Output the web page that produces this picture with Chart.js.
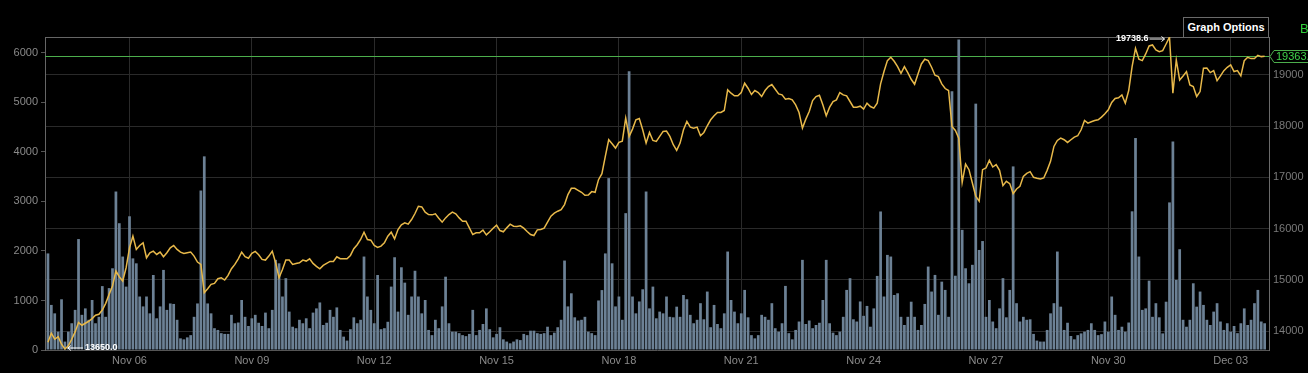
<!DOCTYPE html>
<html>
<head>
<meta charset="utf-8">
<script src="https://cdn.jsdelivr.net/npm/chart.js@4.4.1/dist/chart.umd.min.js"></script>
<style>
  html, body { margin: 0; padding: 0; background: #000; overflow: hidden; }
  #wrap { position: relative; width: 1308px; height: 373px; }
  #chart { position: absolute; left: 0; top: 0; }
  .graph-options {
    position: absolute; left: 1183px; top: 17px; width: 84px; height: 19px;
    border: 1px solid #6a6a6a; border-bottom: none; background: #000;
    color: #fff; font: bold 11px "Liberation Sans", Arial, sans-serif;
    line-height: 19px; text-align: center;
  }
  .pair {
    position: absolute; left: 1300px; top: 21px; white-space: nowrap;
    color: #2fcf3a; font: 13px "Liberation Sans", Arial, sans-serif;
  }
</style>
</head>
<body>
<div id="wrap">
  <canvas id="chart" width="1308" height="373"></canvas>
  <div class="graph-options">Graph Options</div>
  <div class="pair">BTCUSD</div>
</div>
<script>
/* ============================================
   BTC PRICE + VOLUME (2h slots, Nov 04 -> Dec 03)
   ============================================ */

// x axis: days counted from Nov 06 00:00
const firstSlotDay = -2;
const slotDays = 1 / 12;
const dateTickDays = [0, 3, 6, 9, 12, 15, 18, 21, 24, 27];
const dateLabels = ['Nov 06', 'Nov 09', 'Nov 12', 'Nov 15', 'Nov 18', 'Nov 21', 'Nov 24', 'Nov 27', 'Nov 30', 'Dec 03'];

const volumeTicks = [0, 1000, 2000, 3000, 4000, 5000, 6000];
const priceTicks = [14000, 15000, 16000, 17000, 18000, 19000];
const lastPrice = 19363.2;

const priceData = [
  13780, 13957, 13840, 13892, 13743, 13650, 13710, 13840, 13983, 14165,
  14113, 14152, 14191, 14243, 14308, 14327, 14411, 14541, 14716, 14879,
  15171, 15060, 14976, 15236, 15625, 15852, 15593, 15670, 15722, 15430,
  15528, 15560, 15495, 15541, 15450, 15528, 15625, 15670, 15593, 15541,
  15515, 15528, 15541, 15463, 15346, 15301, 14749, 14827, 14911, 14931,
  15022, 15041, 14996, 15086, 15216, 15301, 15411, 15541, 15450, 15420,
  15515, 15554, 15489, 15398, 15385, 15463, 15560, 15333, 15041, 15203,
  15385, 15385, 15301, 15320, 15333, 15385, 15366, 15411, 15320, 15262,
  15216, 15281, 15320, 15359, 15359, 15450, 15411, 15411, 15411, 15476,
  15606, 15684, 15787, 15930, 15787, 15774, 15670, 15632, 15658, 15722,
  15852, 15930, 15800, 15982, 16073, 16112, 16086, 16177, 16294, 16436,
  16423, 16320, 16274, 16268, 16287, 16203, 16125, 16209, 16274, 16320,
  16287, 16209, 16144, 16144, 16014, 15885, 15917, 15917, 15969, 15878,
  15937, 16008, 16066, 15962, 15937, 16014, 16086, 16047, 16040, 16053,
  16008, 15943, 15885, 15865, 15975, 15982, 16008, 16125, 16242, 16300,
  16339, 16371, 16469, 16663, 16787, 16787, 16748, 16709, 16650, 16657,
  16722, 16709, 16955, 17072, 17410, 17734, 17656, 17572, 17682, 17708,
  18156, 17799, 17942, 18124, 18150, 17929, 17669, 17877, 17721, 17702,
  17799,
  17897, 17903, 17799, 17637, 17527, 17669, 17929, 18091, 17981, 17961,
  17981, 17812, 17877, 18007, 18124, 18202, 18266, 18266, 18305, 18708,
  18643, 18591, 18591, 18656, 18838, 18740, 18617, 18695, 18656, 18578,
  18695, 18773, 18812, 18721, 18630, 18610, 18526, 18539, 18513, 18416,
  18266, 17961, 18137, 18286, 18500, 18578, 18604, 18416, 18202, 18370,
  18481, 18513, 18656, 18610, 18591, 18481, 18370, 18370, 18390, 18331,
  18448, 18383, 18351, 18448, 18825, 19065, 19279, 19344, 19266, 19162,
  19032, 19162, 19045, 18915, 18818, 19019, 19214, 19305, 19279, 19149,
  18993, 18967, 18825, 18734, 18695, 17994, 17916, 17767, 16900, 17260,
  17150, 16891, 16631, 16534, 17150, 17183, 17332, 17202, 17248, 17137,
  16839, 16923, 16878, 16683, 16774, 16826, 17020, 17079, 17111, 17001,
  16981, 16968, 16988, 17137, 17313, 17604, 17721, 17767, 17734, 17682,
  17734, 17786, 17812, 17929, 18111, 18059, 18085, 18111, 18124, 18176,
  18241, 18318, 18461, 18539, 18552, 18610, 18448, 18695, 19162, 19519,
  19305, 19279, 19409, 19565, 19584, 19487, 19454, 19474, 19603, 19738.6,
  18643, 19292, 18902, 18980, 19065, 18805, 18773, 18578, 18675, 19130,
  19136, 19045, 19084, 18889, 18980, 19084, 19149, 19195, 19065, 19084,
  18980, 19279, 19344, 19318, 19318, 19383, 19357, 19363.2
];

const volumeData = [
  1950, 910, 740, 370, 1024, 170, 370, 540, 810, 2240,
  710, 840, 610, 1010, 540, 670, 1290, 670, 1250, 1650,
  3200, 2560, 1887, 1280, 2700, 1850, 1750, 1080, 880, 1080,
  740, 1515, 640, 880, 1617, 810, 940, 930, 610, 235,
  215, 255, 300, 670, 940, 3220, 3910, 940, 740, 440,
  405, 340, 325, 325, 710, 540, 555, 1010, 670, 485,
  640, 710, 550, 485, 755, 440, 810, 1820, 1750, 1080,
  1450, 775, 470, 440, 610, 540, 640, 440, 755, 840,
  960, 505, 550, 810, 670, 860, 405, 270, 190, 420,
  660, 540, 610, 1887, 1080, 810, 540, 1515, 420, 440,
  570, 1280, 1873, 775, 1670, 1360, 710, 1080, 1600, 1080,
  740, 1010, 405, 300, 610, 440, 880, 1480, 540, 370,
  370, 340, 300, 280, 325, 810, 300, 405, 525, 840,
  420, 255, 325, 460, 215, 170, 135, 170, 215, 200,
  325, 300, 390, 390, 340, 325, 340, 470, 300, 350,
  460, 610, 1806, 880, 1145, 660, 595, 610, 670, 370,
  340, 300, 1000, 1210, 1950, 3470, 1750, 880, 1080, 610,
  2763, 5630, 1080, 740, 980, 1226, 3200, 840, 1280, 640,
  775,
  740, 1080, 670, 660, 875, 670, 1110, 1025, 710, 540,
  610, 945, 620, 1180, 460, 910, 525, 440, 740, 1988,
  1010, 775, 540, 740, 1213, 660, 300, 235, 300, 710,
  670, 610, 945, 440, 370, 540, 1294, 340, 215, 405,
  575, 1820, 525, 595, 440, 505, 550, 1010, 1820, 540,
  350, 300, 370, 670, 1213, 1450, 620, 575, 980, 690,
  890, 470, 840, 1496, 2797, 1080, 1920, 1887, 1110, 1145,
  670, 505, 670, 975, 670, 405, 505, 930, 1685, 1180,
  1516, 710, 1380, 1213, 670, 5223, 1500, 6270, 2426, 1650,
  1347, 1720, 4974, 2020, 2200, 670, 1010, 575, 440, 840,
  1450, 660, 1213, 3707, 945, 575, 670, 610, 620, 325,
  190, 170, 170, 405, 740, 945, 1988, 875, 405, 550,
  283, 215, 300, 335, 370, 405, 540, 405, 300, 320,
  575, 370, 1080, 710, 405, 470, 370, 555, 2800, 4280,
  1887, 810, 840, 1400, 670, 945, 660, 335, 975, 2980,
  4210, 1415, 2035, 610, 470, 610, 1347, 875, 1180, 910,
  610, 505, 775, 945, 575, 405, 540, 370, 485, 340,
  540, 840, 505, 610, 945, 1213, 575, 540
];

const FONT = '"Liberation Sans", Arial, sans-serif';
const slotX = i => firstSlotDay + i * slotDays;

// frame, last-price line and tag, high/low markers
const overlayPlugin = {
  id: 'overlay',
  beforeDatasetsDraw(chart) {
    const { ctx, chartArea: a, scales } = chart;
    ctx.save();
    ctx.strokeStyle = '#666';
    ctx.lineWidth = 1;
    ctx.beginPath();
    ctx.moveTo(a.left, a.top + 0.5);
    ctx.lineTo(a.right, a.top + 0.5);
    ctx.stroke();
    const y = Math.round(scales.yp.getPixelForValue(lastPrice)) + 0.5;
    ctx.strokeStyle = '#4cae4c';
    ctx.beginPath();
    ctx.moveTo(a.left, y);
    ctx.lineTo(a.right, y);
    ctx.stroke();
    ctx.restore();
  },
  afterDraw(chart) {
    const { ctx, chartArea: a, scales } = chart;
    ctx.save();
    // last price tag
    const y = Math.round(scales.yp.getPixelForValue(lastPrice)) + 0.5;
    ctx.strokeStyle = '#4cae4c';
    ctx.fillStyle = '#000';
    ctx.beginPath();
    ctx.moveTo(a.right + 1, y);
    ctx.lineTo(a.right + 5, y - 6);
    ctx.lineTo(a.right + 60, y - 6);
    ctx.lineTo(a.right + 60, y + 6);
    ctx.lineTo(a.right + 5, y + 6);
    ctx.closePath();
    ctx.fill();
    ctx.stroke();
    ctx.fillStyle = '#3fd34a';
    ctx.font = '11px ' + FONT;
    ctx.textBaseline = 'middle';
    ctx.textAlign = 'left';
    ctx.fillText(lastPrice.toFixed(1), a.right + 7, y + 0.5);

    // low / high markers
    const lowIdx = priceData.indexOf(Math.min(...priceData));
    const highIdx = priceData.indexOf(Math.max(...priceData));
    ctx.fillStyle = '#fff';
    ctx.strokeStyle = '#fff';
    ctx.font = 'bold 9px ' + FONT;

    let px = scales.x.getPixelForValue(slotX(lowIdx));
    let py = Math.min(scales.yp.getPixelForValue(priceData[lowIdx]), a.bottom - 2);
    ctx.beginPath();
    ctx.moveTo(px + 3, py); ctx.lineTo(px + 18, py);
    ctx.moveTo(px + 3, py); ctx.lineTo(px + 6, py - 2.5);
    ctx.moveTo(px + 3, py); ctx.lineTo(px + 6, py + 2.5);
    ctx.stroke();
    ctx.textAlign = 'left';
    ctx.fillText(priceData[lowIdx].toFixed(1), px + 20, py);

    px = scales.x.getPixelForValue(slotX(highIdx));
    py = Math.max(scales.yp.getPixelForValue(priceData[highIdx]), a.top + 2);
    ctx.beginPath();
    ctx.moveTo(px - 20, py); ctx.lineTo(px - 5, py);
    ctx.moveTo(px - 5, py); ctx.lineTo(px - 8, py - 2.5);
    ctx.moveTo(px - 5, py); ctx.lineTo(px - 8, py + 2.5);
    ctx.stroke();
    ctx.textAlign = 'right';
    ctx.fillText(priceData[highIdx].toFixed(1), px - 21, py);
    ctx.restore();
  }
};

new Chart(document.getElementById('chart').getContext('2d'), {
  data: {
    datasets: [{
      type: 'line',
      label: 'Price',
      data: priceData.map((v, i) => ({ x: slotX(i), y: v })),
      yAxisID: 'yp',
      borderColor: '#e8b94a',
      borderWidth: 1.5,
      pointRadius: 0,
      tension: 0,
      order: 0
    }, {
      type: 'bar',
      label: 'Volume',
      data: volumeData.map((v, i) => ({ x: slotX(i), y: v })),
      yAxisID: 'yv',
      backgroundColor: '#6c8195',
      categoryPercentage: 1,
      barPercentage: 0.8,
      order: 1
    }]
  },
  options: {
    responsive: false,
    animation: false,
    events: [],
    layout: { padding: { top: 37, left: 0, right: 0, bottom: 0 } },
    plugins: { legend: { display: false }, tooltip: { enabled: false } },
    scales: {
      x: {
        type: 'linear',
        offset: false,
        min: -2.072,
        max: 27.94,
        afterFit: s => { s.height = 23; },
        afterBuildTicks: s => { s.ticks = dateTickDays.map(v => ({ value: v })); },
        grid: { color: '#2a2a2a', drawTicks: false, offset: false },
        border: { color: '#555' },
        ticks: {
          color: '#8a8a8a',
          font: { family: FONT, size: 11 },
          padding: 4,
          maxRotation: 0,
          callback: v => dateLabels[dateTickDays.indexOf(v)]
        }
      },
      yv: {
        position: 'left',
        min: 0,
        max: 6320,
        afterFit: s => { s.width = 45; },
        afterBuildTicks: s => { s.ticks = volumeTicks.map(v => ({ value: v })); },
        grid: { drawOnChartArea: false, tickLength: 4, color: '#555' },
        border: { color: '#666' },
        ticks: { color: '#8a8a8a', font: { family: FONT, size: 11 }, padding: 3, callback: v => String(v) }
      },
      yp: {
        position: 'right',
        min: 13630,
        max: 19740,
        afterFit: s => { s.width = 39; },
        afterBuildTicks: s => { s.ticks = priceTicks.map(v => ({ value: v })); },
        grid: { color: '#2a2a2a', drawTicks: false },
        border: { color: '#6a6a6a' },
        ticks: { color: '#7a7a7a', font: { family: FONT, size: 11 }, padding: 4, callback: v => String(v) }
      }
    }
  },
  plugins: [overlayPlugin]
});
</script>
</body>
</html>
